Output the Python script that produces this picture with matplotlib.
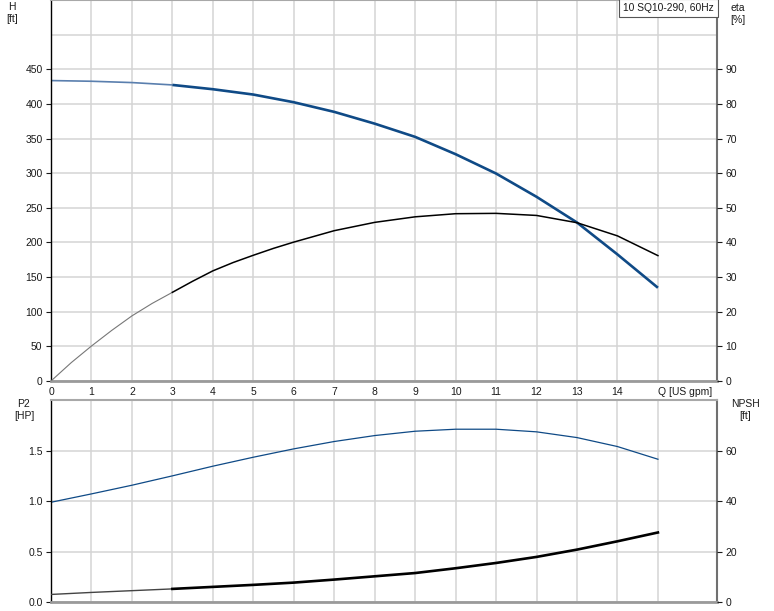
import matplotlib
matplotlib.use("Agg")
import matplotlib.pyplot as plt

plt.rcParams['font.family'] = ['Liberation Sans', 'DejaVu Sans']
plt.rcParams['font.size'] = 7.5

# flow points [US gpm]
q = [0, 1, 2, 3, 4, 5, 6, 7, 8, 9, 10, 11, 12, 13, 14, 15]
# head [ft]
head = [433.7, 432.7, 430.8, 427.4, 421.2, 413.5, 402.4, 388.5, 371.5,
        352.4, 327.4, 299.5, 265.9, 228.8, 182.7, 134.6]
# efficiency [%] (read at half steps in the steep part)
q_eta = [0, 0.5, 1, 1.5, 2, 2.5, 3, 3.5, 4, 4.5, 5, 5.5, 6, 7, 8,
         9, 10, 11, 12, 13, 14, 15]
eta = [0.0, 5.3, 10.1, 14.6, 18.8, 22.4, 25.6, 28.8, 31.8, 34.2, 36.3, 38.3, 40.1, 43.4, 45.8,
       47.4, 48.3, 48.4, 47.8, 45.7, 41.9, 36.2]
# shaft power P2 [HP]
p2 = [0.99, 1.073, 1.159, 1.252, 1.348, 1.437, 1.520, 1.593, 1.652,
      1.695, 1.715, 1.715, 1.689, 1.632, 1.543, 1.417]
# NPSH [ft]
npsh = [3.0, 3.8, 4.5, 5.2, 6.0, 6.8, 7.7, 8.9, 10.2,
        11.5, 13.4, 15.5, 17.9, 20.8, 24.1, 27.6]

x_ticks = list(range(0, 16))
x_labels = [str(i) for i in range(0, 15)] + ["Q [US gpm]"]
title = "10 SQ10-290, 60Hz"

BLUE = "#0f4a86"
GRID = "#d4d4d4"
TXT = "#1a1a1a"
W, H = 774, 611

fig = plt.figure(figsize=(W / 100, H / 100), dpi=100)


def px_axes(left, top, right, bottom):
    return fig.add_axes([left / W, 1 - bottom / H, (right - left) / W, (bottom - top) / H])


def style(ax):
    ax.set_xlim(0, 16.46)
    ax.set_xticks(x_ticks)
    ax.grid(True, which='both', color=GRID, lw=1.1)
    ax.set_axisbelow(True)
    ax.spines['left'].set_color('black')
    ax.spines['left'].set_linewidth(1.0)
    ax.spines['top'].set_color('#a8a8a8')
    ax.spines['top'].set_linewidth(1.5)
    ax.spines['bottom'].set_color('#9a9a9a')
    ax.spines['bottom'].set_linewidth(2.0)
    ax.spines['right'].set_color('#707070')
    ax.spines['right'].set_linewidth(1.5)
    ax.tick_params(axis='y', length=3.6, width=0.8, pad=2.5, colors=TXT, labelcolor=TXT)
    ax.tick_params(axis='y', which='minor', length=0)
    ax.tick_params(axis='x', length=0, pad=4, labelcolor=TXT)


# top panel: head and efficiency
ax1 = px_axes(51, 0, 717, 381)
style(ax1)
ax1.set_ylim(0, 550)
ax1.set_yticks(range(0, 451, 50))
ax1.set_yticks([500], minor=True)
ax1.set_xticklabels(x_labels)
ax1.get_xticklabels()[-1].set_horizontalalignment('left')

ax1.plot(q[:4], head[:4], color="#5a7fae", lw=1.2, solid_capstyle='butt')
ax1.plot(q[3:], head[3:], color=BLUE, lw=1.9, solid_capstyle='butt')

ax1r = ax1.twinx()
ax1r.set_xlim(0, 16.46)
ax1r.set_ylim(0, 110)
ax1r.set_yticks(range(0, 91, 10))
ax1r.tick_params(axis='y', length=3.6, width=0.8, pad=2.5, colors=TXT)
for s in ax1r.spines.values():
    s.set_visible(False)
ax1r.plot(q_eta[:7], eta[:7], color="#777777", lw=0.8)
ax1r.plot(q_eta[6:], eta[6:], color="black", lw=1.1)

fig.text(12 / W, 1 - 2 / H, "H\n[ft]", ha='center', va='top', color=TXT, linespacing=1.25)
fig.text(738 / W, 1 - 3 / H, "eta\n[%]", ha='center', va='top', color=TXT, linespacing=1.25)
ax1.text(0.995, 0.992, title, transform=ax1.transAxes, ha='right', va='top', color=TXT,
         fontsize=7.4,
         bbox=dict(boxstyle='square,pad=0.4', fc='white', ec='#555555', lw=0.8))

# bottom panel: P2 and NPSH
ax2 = px_axes(51, 400, 717, 602)
style(ax2)
ax2.set_ylim(0, 2.005)
ax2.set_yticks([0.0, 0.5, 1.0, 1.5])
ax2.set_yticklabels(["0.0", "0.5", "1.0", "1.5"])
ax2.set_xticklabels([])
ax2.plot(q, p2, color=BLUE, lw=0.9)

ax2r = ax2.twinx()
ax2r.set_xlim(0, 16.46)
ax2r.set_ylim(0, 80.2)
ax2r.set_yticks([0, 20, 40, 60])
ax2r.tick_params(axis='y', length=3.6, width=0.8, pad=2.5, colors=TXT)
for s in ax2r.spines.values():
    s.set_visible(False)
ax2r.plot(q[:4], npsh[:4], color="#444444", lw=1.0)
ax2r.plot(q[3:], npsh[3:], color="black", lw=1.9)

fig.text(24 / W, 1 - 399 / H, "P2\n[HP]", ha='center', va='top', color=TXT, linespacing=1.25)
fig.text(745 / W, 1 - 399 / H, "NPSH\n[ft]", ha='center', va='top', color=TXT, linespacing=1.25)

fig.savefig("out.png", dpi=100)
